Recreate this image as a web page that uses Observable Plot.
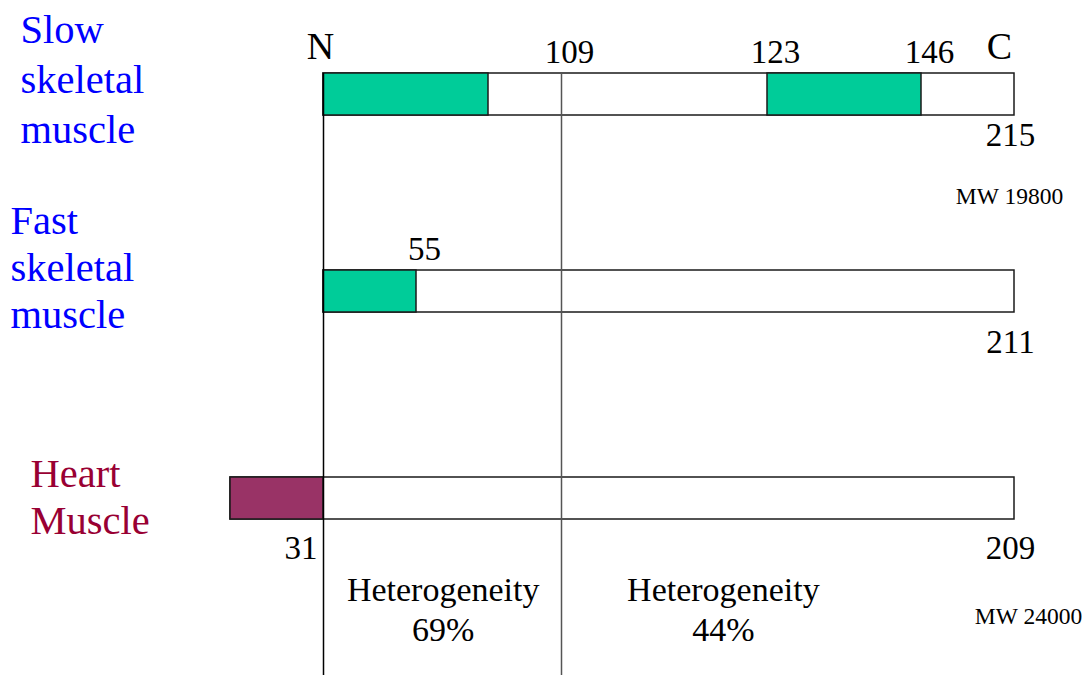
<!DOCTYPE html>
<html>
<head>
<meta charset="utf-8">
<script src="https://cdn.jsdelivr.net/npm/d3@7"></script>
<script src="https://cdn.jsdelivr.net/npm/@observablehq/plot@0.6"></script>
<style>
html, body { margin: 0; padding: 0; background: #fff; overflow: hidden; }
#chart svg { display: block; }
#chart svg, #chart svg text { font-family: "Liberation Serif", "Times New Roman", serif !important; }
</style>
</head>
<body>
<div id="chart"></div>
<script>
// ---------------- data ----------------
const isoforms = ["Slow skeletal muscle", "Fast skeletal muscle", "Heart Muscle"];
const isoformLabels = ["Slow\nskeletal\nmuscle", "Fast\nskeletal\nmuscle", "Heart\nMuscle"];
// positions in the schematic alignment (slow skeletal numbering, heart N-terminal extension negative)
const alignedStart = [0, 0, -31];
const alignedEnd = [215, 215, 215];
const residueCount = [215, 211, 209];

const segmentRow = [0, 0, 1, 2];
const segmentStart = [0, 123, 0, -31];
const segmentEnd = [82, 146, 55, 0];
const segmentKind = ["conserved", "conserved", "conserved", "extension"];

const topLabelRow = [0, 0, 0, 1];
const topLabelValue = [109, 123, 146, 55];

const heartExtension = 31;
const dividerResidues = [0, 109];

const mwRow = [0, 2];
const mwValue = [19800, 24000];

const heterogeneityMid = [65, 120];
const heterogeneityPct = [69, 44];

// schematic breakpoints of the (non-linear) drawing axis
const schematicBreaks = [-31, 0, 55, 82, 109, 123, 146, 215];

// ---------------- tables ----------------
const rows = isoforms.map((name, i) => ({
  row: i, name, label: isoformLabels[i],
  start: alignedStart[i], end: alignedEnd[i], count: residueCount[i]
}));
const segments = segmentStart.map((s, i) => ({
  row: segmentRow[i], start: s, end: segmentEnd[i], kind: segmentKind[i]
}));
const topLabels = topLabelValue.map((v, i) => ({row: topLabelRow[i], x: v, text: String(v)}));
const extensionLabel = [{row: 2, x: alignedStart[2] + heartExtension, text: String(heartExtension)}];
const mwLabels = mwValue.map((v, i) => ({row: mwRow[i], x: alignedEnd[mwRow[i]], text: "MW " + v}));
const hetLabels = heterogeneityPct.map((p, i) => ({row: 2, x: heterogeneityMid[i], text: "Heterogeneity\n" + p + "%"}));
const terminals = [
  {row: 0, x: alignedStart[0], text: "N"},
  {row: 0, x: alignedEnd[0], text: "C"}
];

// ---------------- styles ----------------
const serif = "Liberation Serif";
const rowStyle = [
  {dx: 20, dy: 48, lh: 1.225, fill: "#0000ff", cDy: 51},
  {dx: 10, dy: 36, lh: 1.15, fill: "#0000ff", cDy: 61},
  {dx: 30, dy: 35, lh: 1.15, fill: "#990033", cDy: 60}
];
const barInset = {insetTop: -21, insetBottom: -21};
const txt = {fontFamily: serif, fill: "#000"};

const chart = Plot.plot({
  width: 1086,
  height: 675,
  marginTop: 73,
  marginBottom: 0,
  marginLeft: 0,
  marginRight: 0,
  style: {fontFamily: serif, background: "#fff", color: "#000"},
  x: {type: "linear", domain: schematicBreaks, range: [230, 323, 416, 488, 561, 767, 921, 1014], axis: null},
  y: {type: "linear", domain: [0, 1, 2], range: [94, 291, 498], axis: null},
  color: {domain: ["conserved", "extension"], range: ["#00cc99", "#993366"]},
  marks: [
    Plot.rect(rows, {x1: "start", x2: "end", y1: "row", y2: "row", ...barInset, fill: "#fff", stroke: "#1a1a1a", strokeWidth: 1.5}),
    Plot.rect(segments, {x1: "start", x2: "end", y1: "row", y2: "row", ...barInset, fill: "kind", stroke: "#1a1a1a", strokeWidth: 1.5}),
    Plot.ruleX([dividerResidues[0]], {stroke: "#000", strokeWidth: 1.5}),
    Plot.ruleX([dividerResidues[1]], {stroke: "#555", strokeWidth: 1.5}),
    ...rows.map((r, i) => Plot.text([r], {
      frameAnchor: "left", y: "row", text: "label", textAnchor: "start", lineAnchor: "bottom",
      dx: rowStyle[i].dx, dy: rowStyle[i].dy, lineHeight: rowStyle[i].lh, fontSize: 40.5,
      fontFamily: serif, fill: rowStyle[i].fill
    })),
    Plot.text(topLabels, {x: "x", y: "row", text: "text", dx: 8, dy: -32, lineAnchor: "bottom", fontSize: 33, ...txt}),
    Plot.text([terminals[0]], {x: "x", y: "row", text: "text", dx: -3, dy: -36, lineAnchor: "bottom", fontSize: 38, ...txt}),
    Plot.text([terminals[1]], {x: "x", y: "row", text: "text", dx: -15, dy: -36, lineAnchor: "bottom", fontSize: 38, ...txt}),
    ...rows.map((r, i) => Plot.text([r], {
      x: "end", y: "row", text: d => String(d.count), dx: -4, dy: rowStyle[i].cDy,
      lineAnchor: "bottom", fontSize: 33, ...txt
    })),
    Plot.text(extensionLabel, {x: "x", y: "row", text: "text", textAnchor: "end", dx: -6, dy: 60, lineAnchor: "bottom", fontSize: 33, ...txt}),
    Plot.text([mwLabels[0]], {x: "x", y: "row", text: "text", dx: -5, dy: 109, lineAnchor: "bottom", fontSize: 23.5, ...txt}),
    Plot.text([mwLabels[1]], {x: "x", y: "row", text: "text", dx: 14, dy: 125, lineAnchor: "bottom", fontSize: 23.5, ...txt}),
    Plot.text(hetLabels, {x: "x", y: "row", text: "text", dy: 142, lineAnchor: "bottom", lineHeight: 40 / 34, fontSize: 34, ...txt})
  ]
});
document.getElementById("chart").appendChild(chart);
</script>
</body>
</html>
